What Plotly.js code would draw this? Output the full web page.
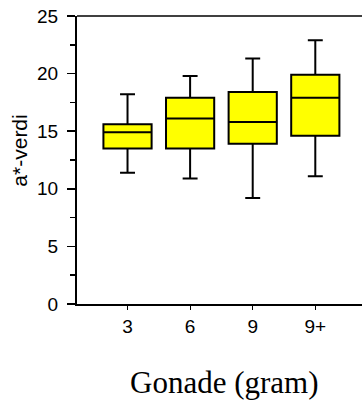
<!DOCTYPE html>
<html>
<head>
<meta charset="utf-8">
<script src="https://cdn.plot.ly/plotly-3.0.1.min.js"></script>
<style>html,body{margin:0;padding:0;background:#fff;}#chart{width:362px;height:403px;}</style>
</head>
<body>
<div id="chart"></div>
<script>
const categories = ['3', '6', '9', '9+'];
const lowerWhisker = [11.4, 10.9, 9.2, 11.1];
const q1Values = [13.5, 13.5, 13.9, 14.6];
const medianValues = [14.9, 16.1, 15.8, 17.9];
const q3Values = [15.6, 17.9, 18.4, 19.9];
const upperWhisker = [18.2, 19.8, 21.3, 22.9];
const yTicks = [0, 5, 10, 15, 20, 25];
const xTitle = 'Gonade (gram)';
const yTitle = 'a*-verdi';

const trace = {
  type: 'box',
  x: categories,
  q1: q1Values,
  median: medianValues,
  q3: q3Values,
  lowerfence: lowerWhisker,
  upperfence: upperWhisker,
  boxpoints: false,
  fillcolor: '#ffff00',
  line: {color: '#000000', width: 2},
  whiskerwidth: 0.31,
  width: 0.77,
  hoverinfo: 'skip',
  showlegend: false
};

const sans = '"Liberation Sans", Arial, sans-serif';
const layout = {
  width: 362,
  height: 403,
  margin: {l: 77, r: 0, t: 16, b: 99, pad: 0},
  paper_bgcolor: '#ffffff',
  plot_bgcolor: '#ffffff',
  showlegend: false,
  xaxis: {
    type: 'category',
    range: [-0.807, 3.746],
    showline: true, linecolor: '#000', linewidth: 2,
    ticks: 'outside', ticklen: 4, tickwidth: 1, tickcolor: '#000',
    showgrid: false, zeroline: false,
    tickfont: {family: sans, size: 19, color: '#000'},
    fixedrange: true
  },
  yaxis: {
    range: [0, 25],
    tickvals: yTicks,
    ticktext: yTicks.map(String),
    showline: true, linecolor: '#000', linewidth: 2,
    ticks: 'outside', ticklen: 8, tickwidth: 1.5, tickcolor: '#000',
    ticklabelstandoff: 5,
    minor: {dtick: 2.5, ticks: 'outside', ticklen: 5, tickwidth: 1.5, tickcolor: '#000', showgrid: false},
    showgrid: false, zeroline: false,
    tickfont: {family: sans, size: 19, color: '#000'},
    fixedrange: true
  },
  shapes: [{
    type: 'line', xref: 'paper', yref: 'paper', x0: 0, x1: 1, y0: 1, y1: 1,
    line: {color: '#000', width: 1.5}
  }],
  annotations: [
    {
      text: yTitle, xref: 'paper', yref: 'paper', x: -0.205, y: 0.531,
      xanchor: 'center', yanchor: 'middle', textangle: -90, showarrow: false,
      font: {family: sans, size: 21, color: '#000'}
    },
    {
      text: xTitle, xref: 'paper', yref: 'paper', x: 0.518, y: -0.205,
      xanchor: 'center', yanchor: 'top', showarrow: false,
      font: {family: '"Liberation Serif", "Times New Roman", serif', size: 31, color: '#000'}
    }
  ]
};

Plotly.newPlot('chart', [trace], layout, {staticPlot: true, displayModeBar: false});
</script>
</body>
</html>
